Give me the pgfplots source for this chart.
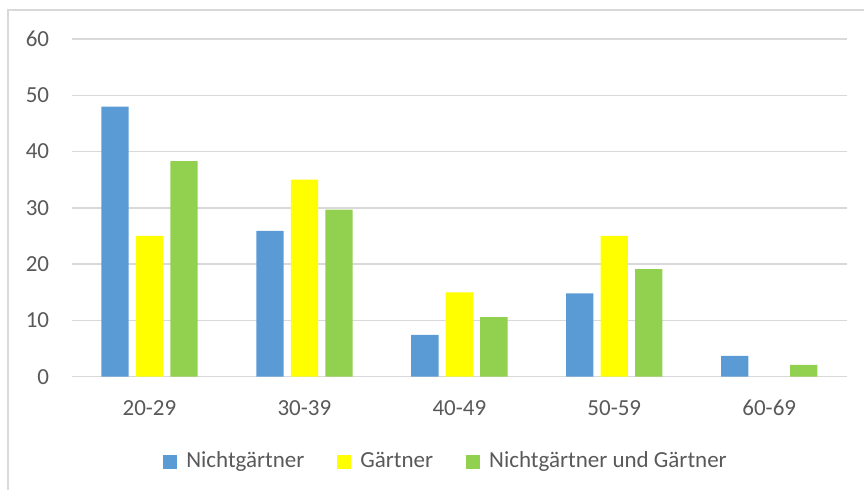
\documentclass[border=0pt]{standalone}
\usepackage{fontspec}
\setmainfont{Carlito}
\usepackage{pgfplots}
\pgfplotsset{compat=1.18}
\definecolor{cBlue}{HTML}{5B9BD5}
\definecolor{cYellow}{HTML}{FFFF00}
\definecolor{cGreen}{HTML}{92D050}
\definecolor{cGrid}{HTML}{D9D9D9}
\definecolor{cText}{HTML}{595959}
\pgfplotsset{sq legend/.style={legend image code/.code={\fill[##1] (0pt,-7pt) rectangle (14pt,7pt);}}}
\begin{document}
\fontsize{23pt}{27pt}\selectfont
\begin{tikzpicture}[x=1pt,y=1pt]
\useasboundingbox (0,0) rectangle (864,490);
\draw[cGrid, line width=1.3pt] (8,0) -- (8,480) -- (864,480);
\begin{axis}[
  at={(72pt,113.3pt)}, anchor=south west,
  scale only axis, width=774.7pt, height=337.7pt,
  ymin=0, ymax=60, ytick={0,10,...,60},
  xmin=-0.5, xmax=4.5, xtick={0,1,2,3,4},
  xticklabels={20-29,30-39,40-49,50-59,60-69},
  ybar=7.2pt, bar width=27.3pt,
  ymajorgrids, grid style={cGrid, line width=1.3pt},
  axis line style={draw=none}, major tick length=0pt,
  /pgf/number format/assume math mode=true,
  tick label style={font=\fontsize{23pt}{27pt}\selectfont, text=cText},
  yticklabel style={anchor=east, inner sep=0pt, xshift=-22.7pt},
  xticklabel style={anchor=center, inner sep=0pt, yshift=-31pt},
  legend columns=3,
  legend style={draw=none, fill=none, at={(0.4828,-0.2517)}, anchor=center,
    font=\fontsize{23pt}{27pt}\selectfont, text=cText,
    /tikz/every odd column/.append style={column sep=7pt},
    /tikz/every even column/.append style={column sep=31pt}},
]
\addplot[fill=cBlue, draw=none, sq legend] coordinates {(0,48) (1,25.9) (2,7.45) (3,14.8) (4,3.7)};
\addplot[fill=cYellow, draw=none, sq legend] coordinates {(0,25) (1,35) (2,15) (3,25)};
\addplot[fill=cGreen, draw=none, sq legend] coordinates {(0,38.3) (1,29.7) (2,10.6) (3,19.1) (4,2.1)};
\legend{Nichtgärtner,Gärtner,Nichtgärtner und Gärtner}
\end{axis}
\end{tikzpicture}
\end{document}
